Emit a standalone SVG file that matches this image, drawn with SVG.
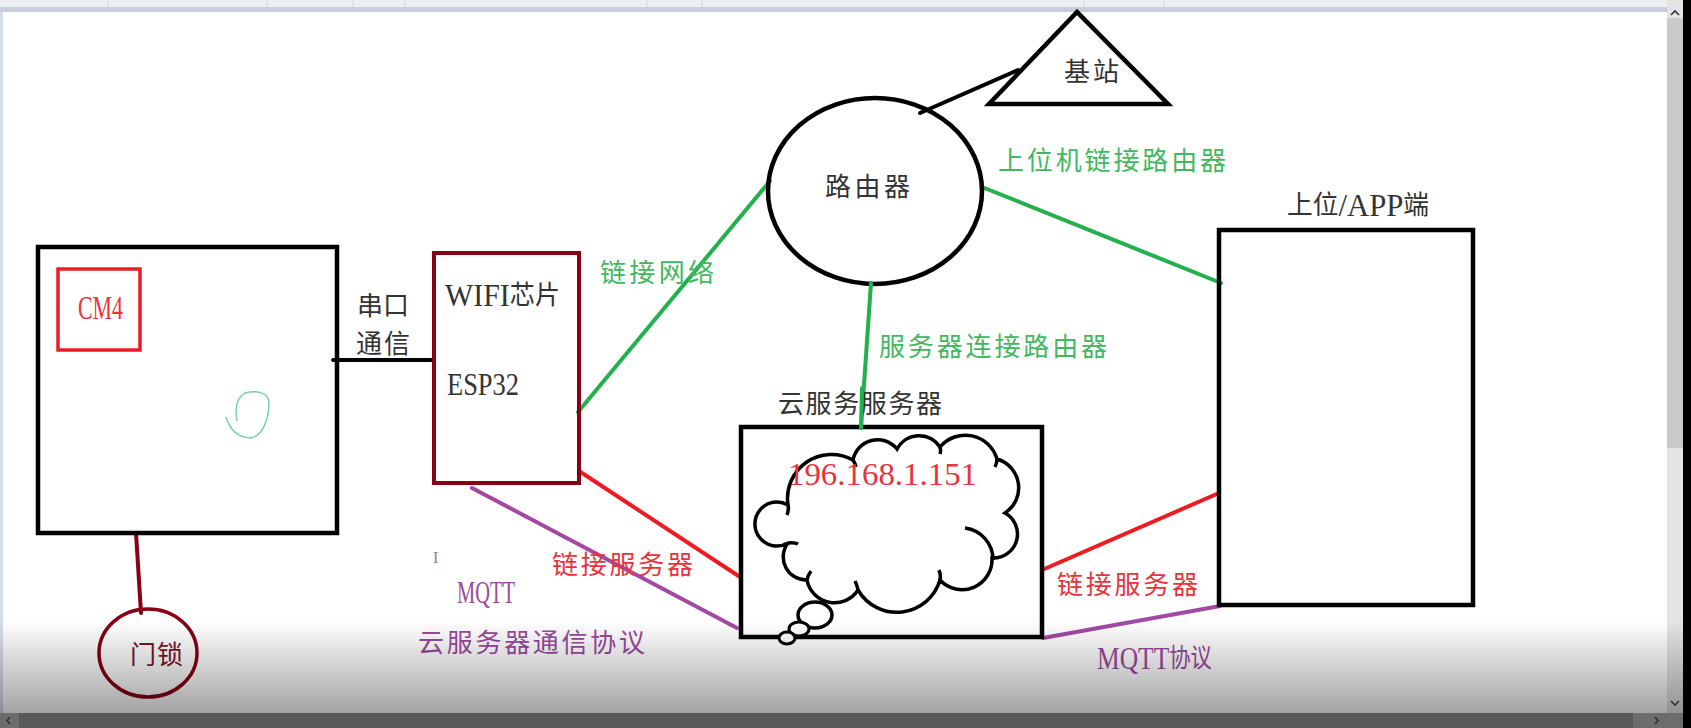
<svg xmlns="http://www.w3.org/2000/svg" width="1691" height="728" viewBox="0 0 1691 728">
<defs>
<linearGradient id="fade" x1="0" y1="0" x2="0" y2="1">
<stop offset="0" stop-color="#000" stop-opacity="0"/>
<stop offset="1" stop-color="#000" stop-opacity="0.36"/>
</linearGradient>
<style>
.box{fill:none;stroke:#000;stroke-width:4.5}
.dr{fill:none;stroke:#880015;stroke-width:4}
.ln{fill:none;stroke-width:4;stroke-linecap:round}
.g{stroke:#22b14c}.r{stroke:#ed1c24}.p{stroke:#a349a4}.k{stroke:#000}
text{font-family:"Liberation Serif","Noto Sans CJK SC",serif;dominant-baseline:central}
.tk{fill:#333;font-size:26px}
.tg{fill:#3fb860;font-size:26px}
.tr{fill:#e8333c;font-size:26px}
.tp{fill:#9b4a9e;font-size:26px}
.lat{font-size:31px}
.chev{fill:none;stroke:#333;stroke-width:1.6}
</style>
</defs>
<rect width="1691" height="728" fill="#fff"/>
<rect x="0" y="0" width="3" height="713" fill="#d6deea"/>
<g id="topbar">
<rect x="0" y="0" width="1667" height="7" fill="#eceef2"/>
<g stroke="#d0d4da" stroke-width="1">
<line x1="108" y1="0" x2="108" y2="7"/><line x1="267" y1="0" x2="267" y2="7"/><line x1="353" y1="0" x2="353" y2="7"/><line x1="405" y1="0" x2="405" y2="7"/><line x1="647" y1="0" x2="647" y2="7"/><line x1="702" y1="0" x2="702" y2="7"/><line x1="1084" y1="0" x2="1084" y2="7"/><line x1="1164" y1="0" x2="1164" y2="7"/>
</g>
<rect x="0" y="7" width="1667" height="5" fill="#c6cedb"/>
</g>

<g id="connectors">
<line class="ln k" x1="333" y1="360" x2="434" y2="360"/>
<line class="ln k" x1="920" y1="113" x2="1018" y2="70"/>
<line class="ln g" x1="578" y1="412" x2="770" y2="181"/>
<line class="ln g" x1="982" y1="187" x2="1221" y2="283"/>
<line class="ln r" x1="579" y1="471" x2="740" y2="577"/>
<line class="ln r" x1="1042" y1="570" x2="1219" y2="493"/>
<line class="ln p" x1="472" y1="488" x2="737" y2="628"/>
<line class="ln p" x1="1043" y1="638" x2="1220" y2="606"/>
<line class="ln" stroke="#880015" stroke-width="3.5" x1="136" y1="533" x2="141" y2="613"/>
</g>

<g id="main-board">
<rect class="box" x="38" y="247" width="299" height="286"/>
<path d="M226,417 C229,427 236,437 250,438 C262,437 269,420 269,402 C268,392 256,390 245,393 C236,398 235,410 237,421" fill="none" stroke="#72d39c" stroke-width="1.4"/>
</g>
<g id="cm4">
<rect x="58" y="269" width="82" height="81" fill="none" stroke="#ed1c24" stroke-width="3.5"/>
<text class="tr" x="78" y="308" textLength="45" lengthAdjust="spacingAndGlyphs" style="font-size:33px">CM4</text>
</g>
<g id="esp32">
<rect class="dr" x="434" y="253" width="145" height="230"/>
<text class="tk" x="445" y="295" textLength="115" lengthAdjust="spacingAndGlyphs"><tspan class="lat">WIFI</tspan>芯片</text>
<text class="tk" x="447" y="384" textLength="72" lengthAdjust="spacingAndGlyphs" style="font-size:31px">ESP32</text>
</g>
<g id="router">
<ellipse cx="875" cy="191" rx="107" ry="93" fill="none" stroke="#000" stroke-width="4.5"/>
<text class="tk" x="825" y="187" textLength="85">路由器</text>
</g>
<g id="base-station">
<polygon points="1077,12 989,104 1168,104" fill="none" stroke="#000" stroke-width="4.5"/>
<text class="tk" x="1064" y="72" textLength="55">基站</text>
</g>
<g id="app">
<rect class="box" x="1219" y="230" width="254" height="375"/>
<text class="tk" x="1287" y="205" textLength="142" lengthAdjust="spacingAndGlyphs">上位<tspan class="lat">/APP</tspan>端</text>
</g>
<g id="cloud-server">
<line class="ln g" x1="871" y1="283" x2="861" y2="428"/>
<rect class="box" x="741" y="427" width="301" height="210"/>
<path d="M853,460 A25,25 0 0,1 897,449 A25,25 0 0,1 940,447 A33,33 0 0,1 997,459 A30,30 0 0,1 1005,513 A24,24 0 0,1 992,558 A30,30 0 0,1 940,580 A45,45 0 0,1 858,590 A28,28 0 0,1 807,580 A23,23 0 0,1 788,543 A22,22 0 1,1 788,505 A44,44 0 0,1 853,460 Z" fill="#fff" stroke="#000" stroke-width="3.5"/>
<path d="M965,528 A32,32 0 0,1 993,560 M853,460 q2,3 3,7 M940,447 q1,4 0,7 M997,459 q0,4 -2,8 M940,580 q1,-5 -1,-10 M858,590 q-1,-5 -3,-9 M807,580 q1,-5 4,-9 M788,543 q6,-1 10,1 M788,505 q1,5 -1,10" fill="none" stroke="#000" stroke-width="3.5"/>
<ellipse cx="815" cy="615" rx="17" ry="13" fill="#fff" stroke="#000" stroke-width="3.5"/>
<ellipse cx="799" cy="629" rx="10" ry="7" fill="#fff" stroke="#000" stroke-width="3"/>
<ellipse cx="787" cy="638" rx="8" ry="6" fill="#fff" stroke="#000" stroke-width="3"/>
<text class="tk" x="778" y="404" textLength="164">云服务服务器</text>
<line class="ln g" x1="862" y1="388" x2="861" y2="428"/>
<text class="tr" x="788" y="474" textLength="189" lengthAdjust="spacingAndGlyphs" style="font-size:31px">196.168.1.151</text>
</g>
<g id="door-lock">
<ellipse cx="148" cy="653" rx="49" ry="44" fill="none" stroke="#880015" stroke-width="3.5"/>
<text x="130" y="655" textLength="53" style="fill:#7a1628;font-size:26px">门锁</text>
</g>

<g id="labels">
<text class="tk" x="357" y="306" textLength="52">串口</text>
<text class="tk" x="356" y="344" textLength="54">通信</text>
<text class="tg" x="600" y="273" textLength="114">链接网络</text>
<text class="tg" x="998" y="161" textLength="228">上位机链接路由器</text>
<text class="tg" x="879" y="347" textLength="228">服务器连接路由器</text>
<text class="tr" x="552" y="565" textLength="141">链接服务器</text>
<text class="tr" x="1057" y="585" textLength="141">链接服务器</text>
<text class="tp" x="457" y="592" textLength="58" lengthAdjust="spacingAndGlyphs" style="font-size:31px">MQTT</text>
<text class="tp" x="418" y="643" textLength="227">云服务器通信协议</text>
<text class="tp" x="1097" y="658" textLength="115" lengthAdjust="spacingAndGlyphs"><tspan class="lat">MQTT</tspan>协议</text>
<text x="433" y="557" style="fill:#888;font-size:16px">I</text>
</g>

<g id="window-chrome">
<rect x="0" y="620" width="1683" height="93" fill="url(#fade)"/>
<rect x="1667" y="0" width="16" height="713" fill="#e4e4e4"/>
<rect x="1667" y="18" width="16" height="430" fill="#cacaca"/>
<rect x="1667" y="620" width="16" height="93" fill="url(#fade)"/>
<polyline class="chev" points="1671,15 1675,11 1679,15"/>
<polyline class="chev" points="1671,701 1675,705 1679,701"/>
<rect x="0" y="713" width="1683" height="15" fill="#6c6c6c"/>
<rect x="19" y="713" width="1614" height="15" fill="#595959"/>
<polyline class="chev" points="10,717 7,720.5 10,724"/>
<polyline class="chev" points="1655,717 1658,720.5 1655,724"/>
<rect x="1683" y="0" width="8" height="728" fill="#000"/>
</g>
</svg>
